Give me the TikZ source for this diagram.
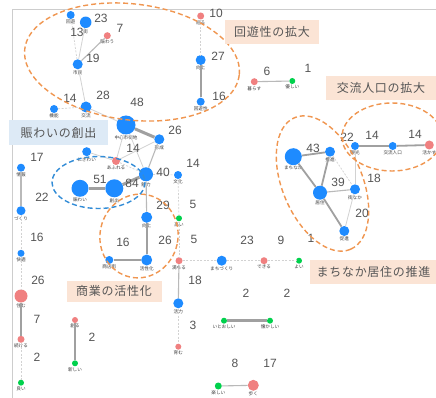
\documentclass[tikz,border=0pt]{standalone}
\usepackage{fontspec}
\newfontfamily\jp{Noto Sans CJK JP}
\newfontfamily\numf{Liberation Sans}
\newfontfamily\jpbox{Noto Sans CJK JP}[LetterSpace=6]
\usetikzlibrary{positioning}
\definecolor{nblue}{RGB}{30,139,255}
\definecolor{nred}{RGB}{240,128,128}
\definecolor{ngreen}{RGB}{0,209,76}
\definecolor{numc}{RGB}{85,85,85}
\definecolor{labc}{RGB}{60,60,60}
\definecolor{boxor}{RGB}{251,228,213}
\definecolor{boxbl}{RGB}{221,234,246}
\definecolor{ellor}{RGB}{240,150,80}
\definecolor{ellbl}{RGB}{50,140,215}
\definecolor{framec}{RGB}{205,205,205}
\definecolor{edgeA}{RGB}{160,160,160}
\definecolor{edgeB}{RGB}{185,185,185}
\definecolor{edgeC}{RGB}{210,210,210}
\tikzset{
 bn/.style={circle,fill=nblue,inner sep=0pt},
 rn/.style={circle,fill=nred,inner sep=0pt},
 gn/.style={circle,fill=ngreen,inner sep=0pt},
 lab/.style={font=\jp\fontsize{4.6}{5}\selectfont,text=labc,inner sep=0pt},
 num/.style={font=\numf\fontsize{12}{12}\selectfont,text=numc,inner sep=0pt},
 thickedge/.style={draw=edgeA,line width=3pt},
 midedge/.style={draw=edgeA,line width=1.8pt},
 normedge/.style={draw=edgeB,line width=1.1pt},
 lightedge/.style={draw=edgeC,line width=0.8pt},
 dashedge/.style={draw=edgeC,line width=0.7pt,dash pattern=on 2pt off 1.5pt},
 obox/.style={fill=boxor,inner sep=0pt,font=\jpbox\fontsize{12}{12}\selectfont,text=numc},
 bbox/.style={fill=boxbl,inner sep=0pt,font=\jpbox\fontsize{12}{12}\selectfont,text=numc},
 oell/.style={draw=ellor,line width=1.4pt,dash pattern=on 5pt off 3pt},
 bell/.style={draw=ellbl,line width=1.4pt,dash pattern=on 5pt off 3pt},
}
\newcommand\nd[5]{\node[#1,minimum size=#2pt] (#3) at (#4) {}; \node[lab,below=0.7pt of #3] (#3l) {#5};}
\begin{document}
\begin{tikzpicture}[x=1pt,y=-1pt]
\useasboundingbox (0,0) rectangle (436,398);
\clip (0,0) rectangle (436,398);
\fill[white] (0,0) rectangle (436,398);
\draw[framec,line width=0.8pt] (12,398) -- (12,9) -- (436,9);
% nodes
\nd{bn}{8}{kaiyu}{70.7,15}{回遊}
\nd{bn}{11.5}{machi}{85.7,22.3}{街}
\nd{rn}{7}{nigiwau}{107.3,35.7}{賑わう}
\nd{bn}{10}{shimin}{77.7,64.3}{市民}
\nd{bn}{8}{kino}{54,109}{機能}
\nd{bn}{11}{koryu}{86,107}{交流}
\nd{bn}{19}{chushin}{126,125}{中心市街地}
\nd{rn}{7}{meguru}{200.7,16}{巡る}
\nd{bn}{10}{kojoa}{200.7,60}{向上}
\nd{bn}{8}{kaiyusei}{200.7,101.7}{回遊性}
\nd{rn}{7}{kurasu}{254.3,81.7}{暮らす}
\nd{gn}{6}{yasashii}{292.3,81}{優しい}
\nd{bn}{10}{keisei}{159.3,139.3}{形成}
\nd{bn}{9}{nigiwaib}{86.7,151.7}{にぎわい}
\nd{rn}{8}{afureru}{116,161}{あふれる}
\nd{bn}{14}{miryoku}{146,174.3}{魅力}
\nd{bn}{8}{bunka}{178,175}{文化}
\nd{bn}{17}{nigiwai}{80,188.3}{賑わい}
\nd{bn}{18}{soshutsu}{114.3,188.3}{創出}
\nd{bn}{11}{kojob}{146.7,217.3}{向上}
\nd{gn}{6}{takai}{179,218.3}{高い}
\nd{bn}{8}{shotengai}{109.3,260}{商店街}
\nd{bn}{11}{kasseika}{146.7,260}{活性化}
\nd{rn}{7}{michiru}{179,260.7}{満ちる}
\nd{bn}{10}{machizukuri}{221.7,260.7}{まちづくり}
\nd{rn}{7}{dekiru}{264,260.7}{できる}
\nd{gn}{6}{yoi}{299,260.7}{よい}
\nd{bn}{10}{katsuryoku}{178.3,303.3}{活力}
\nd{rn}{6}{hagukumu}{178.3,346.7}{育む}
\nd{gn}{6}{itooshii}{224,320.7}{いとおしい}
\nd{gn}{6}{natsukashii}{270,320.7}{懐かしい}
\nd{gn}{7}{tanoshii}{218.3,386}{楽しい}
\nd{rn}{11}{aruku}{253.3,385.3}{歩く}
\nd{bn}{8}{joho}{21,167.7}{情報}
\nd{bn}{9}{zukuri}{21,210.7}{づくり}
\nd{bn}{7}{kaiteki}{21,253.3}{快適}
\nd{rn}{13}{sumu}{21,296}{住む}
\nd{rn}{7}{tsuzukeru}{21,339.3}{続ける}
\nd{gn}{6}{yoib}{21,382.7}{良い}
\nd{rn}{6}{tsukuru}{75,320}{創る}
\nd{gn}{6}{atarashii}{75,363.3}{新しい}
\nd{bn}{17}{machinaka}{293.3,156.7}{まちなか}
\nd{bn}{10}{suishin}{330,151.7}{推進}
\nd{bn}{14}{kyoju}{320,192.7}{居住}
\nd{bn}{10}{machinakab}{355,189.3}{街なか}
\nd{bn}{10}{sokushin}{344.3,231}{促進}
\nd{bn}{8}{kanko}{355,146}{観光}
\nd{bn}{8}{koryujinko}{392.7,146}{交流人口}
\nd{rn}{9}{ikasu}{429.3,145}{活かす}
% edges
\draw[dashedge] (kaiyu) -- (shimin);
\draw[lightedge] (machi) -- (shimin);
\draw[normedge] (nigiwau) -- (shimin);
\draw[lightedge] (shimin) -- (koryu);
\draw[dashedge] (kino) -- (koryu);
\draw[lightedge] (koryu) -- (chushin);
\draw[thickedge] (chushin) -- (keisei);
\draw[lightedge] (chushin) -- (afureru);
\draw[lightedge] (afureru) -- (keisei);
\draw[lightedge] (chushin) -- (miryoku);
\draw[normedge] (keisei) -- (miryoku);
\draw[dashedge] (afureru) -- (miryoku);
\draw[lightedge] (nigiwaib) -- (afureru);
\draw[thickedge] (soshutsu) -- (miryoku);
\draw[thickedge] (nigiwai) -- (soshutsu);
\draw[dashedge] (miryoku) -- (bunka);
\draw[normedge] (miryoku) -- (kojob);
\draw[midedge] (kojob) -- (kasseika);
\draw[midedge] (shotengai) -- (kasseika);
\draw[dashedge] (bunka) -- (takai);
\draw[dashedge] (takai) -- (michiru);
\draw[dashedge] (michiru) -- (machizukuri);
\draw[dashedge] (machizukuri) -- (dekiru);
\draw[dashedge] (dekiru) -- (yoi);
\draw[normedge] (michiru) -- (katsuryoku);
\draw[dashedge] (katsuryoku) -- (hagukumu);
\draw[normedge] (joho) -- (zukuri);
\draw[dashedge] (zukuri) -- (kaiteki);
\draw[dashedge] (kaiteki) -- (sumu);
\draw[midedge] (sumu) -- (tsuzukeru);
\draw[dashedge] (tsuzukeru) -- (yoib);
\draw[midedge] (tsukuru) -- (atarashii);
\draw[thickedge] (itooshii) -- (natsukashii);
\draw[normedge] (tanoshii) -- (aruku);
\draw[dashedge] (meguru) -- (kojoa);
\draw[midedge] (kojoa) -- (kaiyusei);
\draw[normedge] (kurasu) -- (yasashii);
\draw[midedge] (kanko) -- (koryujinko);
\draw[midedge] (koryujinko) -- (ikasu);
\draw[lightedge] (kanko) -- (machinakab);
\draw[midedge] (machinaka) -- (suishin);
\draw[midedge] (machinaka) -- (kyoju);
\draw[midedge] (suishin) -- (kyoju);
\draw[dashedge] (suishin) -- (machinakab);
\draw[normedge] (kyoju) -- (machinakab);
\draw[midedge] (kyoju) -- (sokushin);
\draw[lightedge] (machinakab) -- (sokushin);
% numbers
\node[num] (w1) at (101,18) {23};
\node[num] (w2) at (77,32) {13};
\node[num] (w3) at (120,28) {7};
\node[num] (w4) at (93,58) {19};
\node[num] (w5) at (103,95) {28};
\node[num] (w6) at (70,98) {14};
\node[num] (w7) at (137,102) {48};
\node[num] (w8) at (216,13) {10};
\node[num] (w9) at (218,56) {27};
\node[num] (w10) at (219,96) {16};
\node[num] (w11) at (267,71) {6};
\node[num] (w12) at (308,68) {1};
\node[num] (w13) at (175,130) {26};
\node[num] (w14) at (133,148) {14};
\node[num] (w15) at (37,157) {17};
\node[num] (w16) at (42,197) {22};
\node[num] (w17) at (37,237) {16};
\node[num] (w18) at (38,280) {26};
\node[num] (w19) at (37,319) {7};
\node[num] (w20) at (37,357) {2};
\node[num] (w21) at (92,337) {2};
\node[num] (w22) at (100,179) {51};
\node[num] (w23) at (132,183) {84};
\node[num] (w24) at (163,172) {40};
\node[num] (w25) at (193,163) {14};
\node[num] (w26) at (163,205) {29};
\node[num] (w27) at (193,204) {5};
\node[num] (w28) at (165,240) {26};
\node[num] (w29) at (194,239) {5};
\node[num] (w30) at (123,242) {16};
\node[num] (w31) at (247,240) {23};
\node[num] (w32) at (281,240) {9};
\node[num] (w33) at (311,238) {1};
\node[num] (w34) at (195,280) {18};
\node[num] (w35) at (193,325) {3};
\node[num] (w36) at (246,293) {2};
\node[num] (w37) at (287,293) {2};
\node[num] (w38) at (235,363) {8};
\node[num] (w39) at (270,363) {17};
\node[num] (w40) at (313,148) {43};
\node[num] (w41) at (338,182) {39};
\node[num] (w42) at (374,178) {18};
\node[num] (w43) at (362,213) {20};
\node[num] (w44) at (347,137) {22};
\node[num] (w45) at (372,135) {14};
\node[num] (w46) at (415,134) {14};
% ellipses
\draw[oell,rotate around={-7:(132,62)}] (132,62) ellipse [x radius=108,y radius=58];
\draw[oell] (392,137) ellipse [x radius=50,y radius=34];
\draw[oell,rotate around={-67:(322.5,183.5)}] (322.5,183.5) ellipse [x radius=71.5,y radius=40];
\draw[oell,rotate around={-12:(139,236)}] (139,236) ellipse [x radius=39,y radius=42];
\draw[bell] (98.5,182.5) ellipse [x radius=46.5,y radius=26];
% theme boxes
\node[obox,minimum width=94pt,minimum height=24pt] (t1) at (272,32) {回遊性の拡大};
\node[obox,minimum width=110pt,minimum height=24pt] (t2) at (381,88) {交流人口の拡大};
\node[bbox,minimum width=99pt,minimum height=25pt] (t3) at (58.5,133) {賑わいの創出};
\node[obox,minimum width=95pt,minimum height=21pt] (t4) at (114,291) {商業の活性化};
\node[obox,minimum width=127pt,minimum height=24pt] (t5) at (373.5,272) {まちなか居住の推進};
\end{tikzpicture}
\end{document}
